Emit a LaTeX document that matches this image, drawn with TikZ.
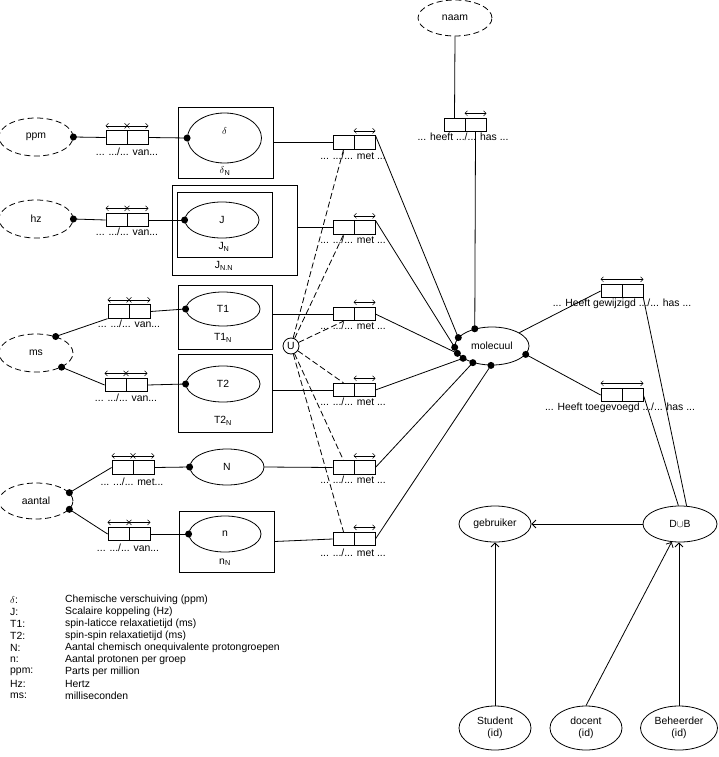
\documentclass[tikz,border=0pt]{standalone}
\usepackage{fontspec}
\setmainfont{Liberation Sans}
\usetikzlibrary{shapes.geometric,arrows.meta}
\newcommand\rolebox[3]{%
  \node[rhalf] (#1a) at (#2-10.5,#3) {};
  \node[rhalf] (#1b) at (#2+10.5,#3) {};}
\newcommand\uqone[1]{\draw[uq] ([yshift=4.5pt]#1.north west) -- ([yshift=4.5pt]#1.north east);}
\begin{document}
\begin{tikzpicture}[x=1pt,y=-1pt,
  every node/.style={font=\fontsize{10.4}{12}\selectfont},
  ent/.style={ellipse,draw,line width=0.8pt,inner sep=0pt,minimum width=74pt,minimum height=36pt},
  valobj/.style={ent,dash pattern=on 6pt off 3.5pt},
  rhalf/.style={rectangle,draw,line width=0.8pt,inner sep=0pt,minimum width=21pt,minimum height=13.5pt},
  objbox/.style={rectangle,draw,line width=0.8pt,inner sep=0pt},
  rdot/.style={circle,fill,inner sep=0pt,minimum size=7pt},
  uq/.style={{Straight Barb[length=2.5pt,width=5pt]}-{Straight Barb[length=2.5pt,width=5pt]},line width=0.5pt},
  conn/.style={line width=0.8pt},
  dsh/.style={dash pattern=on 6pt off 3pt,line width=0.8pt},
  subarr/.style={-{Straight Barb[length=4pt,width=8pt]},line width=0.8pt}
]
\useasboundingbox (0,0) rectangle (718,757);

% value types (dashed)
\node[valobj] (naam) at (455,18) {naam};
\node[valobj,minimum height=38pt] (ppm) at (36,137) {ppm};
\node[valobj,minimum height=38pt] (hz) at (36,219) {hz};
\node[valobj,minimum height=38pt] (ms) at (36,353) {ms};
\node[valobj] (aantal) at (36,501) {aantal};

% delta
\node[objbox,minimum width=95pt,minimum height=71pt] (dbox) at (225.5,142.5) {};
\node[ent,minimum height=50pt] (delta) at (224.5,138) {};
\node (deltat) at (224.5,131) {$\delta$};
\node (deltaN) at (225,171) {$\delta$\textsubscript{N}};

% J
\node[objbox,minimum width=125pt,minimum height=90pt] (Jout) at (234.5,230) {};
\node[objbox,minimum width=95pt,minimum height=65pt] (Jin) at (224.5,224.5) {};
\node[ent] (J) at (222,220) {J};
\node (JN) at (224,247) {J\textsubscript{N}};
\node (JNN) at (224,266) {J\textsubscript{N.N}};

% T1
\node[objbox,minimum width=94pt,minimum height=64pt] (T1box) at (225,317) {};
\node[ent,minimum height=34pt] (T1) at (223,309) {T1};
\node (T1N) at (223,338) {T1\textsubscript{N}};

% T2
\node[objbox,minimum width=94pt,minimum height=78pt] (T2box) at (225,393) {};
\node[ent] (T2) at (223,384) {T2};
\node (T2N) at (223,421) {T2\textsubscript{N}};

% N
\node[ent] (N) at (227,467) {N};

% n
\node[objbox,minimum width=95pt,minimum height=61pt] (nbox) at (226.5,541.5) {};
\node[ent,minimum width=72pt] (n) at (225,534) {n};
\node (nN) at (225,562) {n\textsubscript{N}};

% role boxes left
\rolebox{rp}{127}{137.5}
\rolebox{rh}{127}{220}
\rolebox{rtone}{129}{311.5}
\rolebox{rttwo}{126}{385}
\rolebox{rN}{133}{467.5}
\rolebox{rn}{129}{534}
\foreach \r in {rp,rh,rtone,rttwo,rN,rn}{\uqone{\r a}\uqone{\r b}}

% met role boxes
\rolebox{mone}{354}{142.5}
\rolebox{mtwo}{354}{227.5}
\rolebox{mthree}{354}{314}
\rolebox{mfour}{354}{390}
\rolebox{mfive}{354}{467.5}
\rolebox{msix}{354}{539}
\rolebox{hf}{465}{125}
\foreach \r in {mone,mtwo,mthree,mfour,mfive,msix,hf}{\uqone{\r b}}

% right role boxes
\rolebox{gw}{622}{291}
\rolebox{tg}{622}{395}
\draw[uq] ([yshift=4.5pt]gwa.north west) -- ([yshift=4.5pt]gwb.north east);
\draw[uq] ([yshift=4.5pt]tga.north west) -- ([yshift=4.5pt]tgb.north east);

% U and molecuul
\node[circle,draw,line width=0.8pt,inner sep=0pt,minimum size=16pt] (U) at (291,346) {U};
\node[ent,minimum height=38pt] (mol) at (492,346) {molecuul};

% bottom right
\node[ent,minimum width=72pt] (geb) at (495,524) {gebruiker};
\node[ent] (dub) at (680,524) {D$\cup$B};
\node[ent,minimum width=72pt,minimum height=44pt,align=center] (stu) at (495,728) {Student\\(id)};
\node[ent,minimum width=72pt,minimum height=44pt,align=center] (doc) at (586,728) {docent\\(id)};
\node[ent,minimum width=77pt,minimum height=44pt,align=center] (beh) at (679,728) {Beheerder\\(id)};

% role labels
\node (lrp) at (127,152) {... .../... van...};
\node (lrh) at (127,232) {... .../... van...};
\node (lrtone) at (129,324) {... .../... van...};
\node (lrttwo) at (126,398) {... .../... van...};
\node (lrN) at (132,482) {... .../... met...};
\node (lrn) at (128,548) {... .../... van...};
\node (lmone) at (353,156) {... .../... met ...};
\node (lmtwo) at (353,240) {... .../... met ...};
\node (lmthree) at (353,326) {... .../... met ...};
\node (lmfour) at (353,402) {... .../... met ...};
\node (lmfive) at (353,480) {... .../... met ...};
\node (lmsix) at (353,553) {... .../... met ...};
\node (lhf) at (463,137) {... heeft .../... has ...};
\node (lgw) at (622,304) {... Heeft gewijzigd .../... has ...};
\node (ltg) at (620,408) {... Heeft toegevoegd .../... has ...};

% left connectors
\draw[conn] (ppm.east) -- (rpa.west);
\draw[conn] (rpb.east) -- (delta.west);
\draw[conn] (hz.east) -- (rha.west);
\draw[conn] (rhb.east) -- (J.west);
\draw[conn] (ms.40) -- (rtonea.south west);
\draw[conn] (rtoneb.east) -- (T1.west);
\draw[conn] (ms.331) -- (rttwoa.west);
\draw[conn] (rttwob.east) -- (T2.west);
\draw[conn] (aantal.14) -- (rNa.west);
\draw[conn] (rNb.east) -- (N.west);
\draw[conn] (aantal.346) -- (rna.west);
\draw[conn] (rnb.east) -- (n.west);
\node[rdot] (d1) at (ppm.east) {};
\node[rdot] (d2) at (delta.west) {};
\node[rdot] (d3) at (hz.east) {};
\node[rdot] (d4) at (J.west) {};
\node[rdot] (d5) at (ms.40) {};
\node[rdot] (d6) at (T1.west) {};
\node[rdot] (d7) at (ms.331) {};
\node[rdot] (d8) at (T2.west) {};
\node[rdot] (d9) at (aantal.14) {};
\node[rdot] (d10) at (N.west) {};
\node[rdot] (d11) at (aantal.346) {};
\node[rdot] (d12) at (n.west) {};

% object types to met boxes
\draw[conn] (dbox.east |- monea.west) -- (monea.west);
\draw[conn] (Jout.east |- mtwoa.west) -- (mtwoa.west);
\draw[conn] (T1box.east |- mthreea.west) -- (mthreea.west);
\draw[conn] (T2box.east |- mfoura.west) -- (mfoura.west);
\draw[conn] (N.east) -- (mfivea.west);
\draw[conn] (nbox.east) -- (msixa.west);

% met boxes to molecuul
\draw[conn] (moneb.north east) -- (mol.166);
\draw[conn] (mtwob.north east) -- (mol.182);
\draw[conn] (mthreeb.east) -- (mol.192);
\draw[conn] (mfourb.east) -- (mol.203);
\draw[conn] (mfiveb.east) -- (mol.221);
\draw[conn] (msixb.east) -- (mol.267);
\draw[conn] (naam.south) -- (hfa.north);
\draw[conn] (hfb.south) -- (mol.135);
\foreach \a [count=\i] in {135,166,182,192,203,221,267,346}{\node[rdot] (md\i) at (mol.\a) {};}

% U constraint
\draw[dsh] (U) -- (monea.south);
\draw[dsh] (U) -- (mtwoa.south);
\draw[dsh] (U) -- (mthreea.south);
\draw[dsh] (U) -- (mfoura.north);
\draw[dsh] (U) -- (mfivea.north);
\draw[dsh] (U) -- (msixa.north);

% right side
\draw[conn] (mol.26) -- (gwa.west);
\draw[conn] (mol.346) -- (tga.west);
\draw[conn] (gwb.south east) -- (dub.70);
\draw[conn] (tgb.east) -- (dub.95);

% subtypes
\draw[subarr] (dub) -- (geb);
\draw[subarr] (stu) -- (geb);
\draw[subarr] (doc.north) -- (dub.245);
\draw[subarr] (beh.north) -- (beh.north |- dub.south);

% legend
\foreach \k/\a/\b in {0/$\delta$:/Chemische verschuiving (ppm),
  1/J:/Scalaire koppeling (Hz),
  2/T1:/spin-laticce relaxatietijd (ms),
  3/T2:/spin-spin relaxatietijd (ms),
  4/N:/Aantal chemisch onequivalente protongroepen,
  5/n:/Aantal protonen per groep,
  6/ppm:/Parts per million,
  7/Hz:/Hertz,
  8/ms:/milliseconden}{
  \node[anchor=west,inner sep=0pt] (lga\k) at (10,600+12*\k) {\a};
  \node[anchor=west,inner sep=0pt] (lgb\k) at (65,600+12*\k) {\b};
}
\end{tikzpicture}
\end{document}
